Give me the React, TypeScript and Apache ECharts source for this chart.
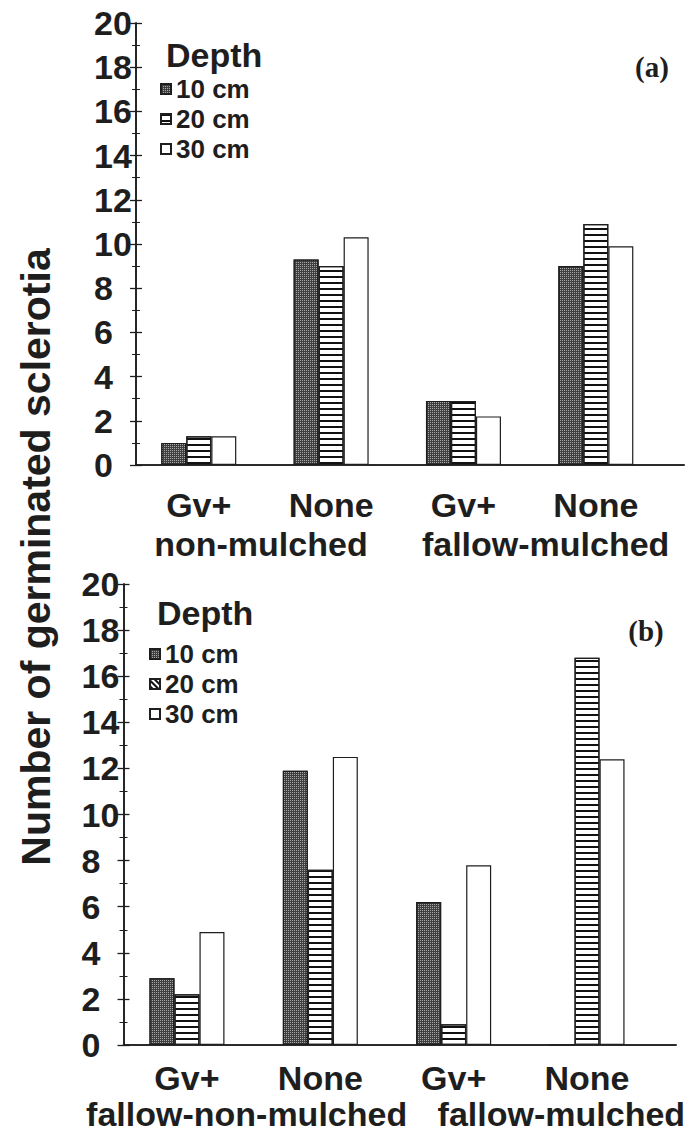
import React, { useEffect, useRef } from "react";
import * as echarts from "echarts";

const CATEGORIES = ["g1", "g2", "g3", "g4"];
const CATEGORY_LABELS = ["Gv+", "None", "Gv+", "None"];
const GROUPS_A = ["non-mulched", "fallow-mulched"];
const GROUPS_B = ["fallow-non-mulched", "fallow-mulched"];
const DEPTHS = ["10 cm", "20 cm", "30 cm"];

const A_10 = [1.0, 9.3, 2.9, 9.0];
const A_20 = [1.3, 9.0, 2.9, 10.9];
const A_30 = [1.3, 10.3, 2.2, 9.9];

const B_10 = [2.9, 11.9, 6.2, 0];
const B_20 = [2.2, 7.6, 0.9, 16.8];
const B_30 = [4.9, 12.5, 7.8, 12.4];

const Y_TITLE = "Number of germinated sclerotia";
const PANEL_A = "(a)";
const PANEL_B = "(b)";
const LEGEND_TITLE = "Depth";

const FONT = "'Liberation Sans', Arial, Helvetica, sans-serif";
const SERIF = "'Liberation Serif', 'Times New Roman', serif";
const INK = "#1e1e1e";

const decal10 = {
  symbol: "rect",
  symbolSize: 1,
  color: "rgba(255,255,255,0.55)",
  dashArrayX: [1, 1],
  dashArrayY: [1, 1],
  rotation: 0,
};
const decal20 = {
  symbol: "rect",
  symbolSize: 1,
  color: "#111",
  dashArrayX: [1, 0],
  dashArrayY: [1.6, 3.4],
  rotation: 0,
};
const decal20diag = {
  symbol: "rect",
  symbolSize: 1,
  color: "#111",
  dashArrayX: [1, 0],
  dashArrayY: [1.2, 1.8],
  rotation: Math.PI / 4,
};

const styles = [
  { color: "#3f3f3f", borderColor: INK, borderWidth: 1.2, decal: decal10 },
  { color: "#ffffff", borderColor: INK, borderWidth: 1.2, decal: decal20 },
  { color: "#ffffff", borderColor: INK, borderWidth: 1.2 },
];

function frameAxes(grid: number) {
  const x = [
    {
      type: "value", gridIndex: grid, min: 0, max: 1, position: "bottom",
      axisLine: { show: true, lineStyle: { color: INK, width: 1.6 } },
      axisTick: { show: false }, axisLabel: { show: false }, splitLine: { show: false },
    },
    {
      type: "value", gridIndex: grid, min: 0, max: 1, position: "top",
      axisLine: { show: true, lineStyle: { color: INK, width: 1.6 } },
      axisTick: { show: false }, axisLabel: { show: false }, splitLine: { show: false },
    },
  ];
  const y = [
    {
      type: "value", gridIndex: grid, min: 0, max: 20, interval: 2, position: "left",
      axisLine: { show: true, lineStyle: { color: INK, width: 1.6 } },
      axisTick: { show: true, length: 6, lineStyle: { color: INK, width: 1.3 } },
      minorTick: { show: true, splitNumber: 2, length: 4, lineStyle: { color: INK, width: 1 } },
      axisLabel: { show: true, align: "left", margin: 42, fontSize: 34, fontWeight: "bold", fontFamily: FONT, color: INK },
      splitLine: { show: false },
    },
    {
      type: "value", gridIndex: grid, min: 0, max: 20, interval: 2, position: "right",
      axisLine: { show: true, lineStyle: { color: INK, width: 1.6 } },
      axisTick: { show: true, length: 6, lineStyle: { color: INK, width: 1.3 } },
      minorTick: { show: true, splitNumber: 2, length: 4, lineStyle: { color: INK, width: 1 } },
      axisLabel: { show: false },
      splitLine: { show: false },
    },
  ];
  return { x, y };
}

function barAxes(grid: number, groups: string[], margin: number, offset: number, padL: number, padR: number) {
  const x = [
    {
      type: "category", gridIndex: grid, data: CATEGORIES, position: "bottom",
      axisLine: { show: false }, axisTick: { show: false },
      axisLabel: {
        interval: 0, margin, fontSize: 34, fontWeight: "bold", fontFamily: FONT, color: INK,
        formatter: (_v: string, i: number) => CATEGORY_LABELS[i],
      },
    },
    {
      type: "category", gridIndex: grid, data: groups, position: "bottom", offset,
      axisLine: { show: false }, axisTick: { show: false },
      axisLabel: {
        interval: 0, margin, fontSize: 34, fontWeight: "bold", fontFamily: FONT, color: INK,
        formatter: (v: string, i: number) => (i === 0 ? `{l|${v}}` : `{r|${v}}`),
        rich: {
          l: { fontSize: 34, fontWeight: "bold", fontFamily: FONT, color: INK, padding: [0, padL, 0, 0] },
          r: { fontSize: 34, fontWeight: "bold", fontFamily: FONT, color: INK, padding: [0, 0, 0, padR] },
        },
      },
    },
  ];
  const y = [{ type: "value", gridIndex: grid, min: 0, max: 20, show: false }];
  return { x, y };
}

export default function App() {
  const ref = useRef<HTMLDivElement>(null);
  useEffect(() => {
    if (!ref.current) return;
    const chart = echarts.init(ref.current, undefined, { renderer: "svg" });
    const fa = frameAxes(0);
    const ba = barAxes(1, GROUPS_A, 23, 39, 8, 32);
    const fb = frameAxes(2);
    const bb = barAxes(3, GROUPS_B, 16, 36, 14, 82);

    const seriesFor = (vals: number[][], xIdx: number, yIdx: number) =>
      vals.map((d, k) => ({
        type: "bar",
        name: DEPTHS[k],
        xAxisIndex: xIdx,
        yAxisIndex: yIdx,
        data: d,
        barWidth: 25,
        barGap: "0%",
        itemStyle: styles[k],
        emphasis: { disabled: true },
      }));

    const legendCommon = {
      orient: "vertical",
      icon: "rect",
      itemWidth: 10,
      itemHeight: 10,
      itemGap: 4,
      selectedMode: false,
      textStyle: { fontSize: 26, fontWeight: "bold", fontFamily: FONT, color: INK },
    };

    chart.setOption({
      animation: false,
      backgroundColor: "#ffffff",
      grid: [
        { left: 136, top: 23, width: 548, height: 442 },
        { left: 132.6, top: 23, width: 529.4, height: 442 },
        { left: 123.5, top: 584, width: 552.5, height: 461 },
        { left: 120.3, top: 584, width: 533.4, height: 461 },
      ],
      xAxis: [...fa.x, ...ba.x, ...fb.x, ...bb.x],
      yAxis: [...fa.y, ...ba.y, ...fb.y, ...bb.y],
      title: [
        { text: LEGEND_TITLE, left: 161, top: 33, textStyle: { fontSize: 34, fontWeight: "bold", fontFamily: FONT, color: INK } },
        { text: LEGEND_TITLE, left: 152, top: 591, textStyle: { fontSize: 34, fontWeight: "bold", fontFamily: FONT, color: INK } },
      ],
      legend: [
        { ...legendCommon, left: 155, top: 71, data: DEPTHS },
        {
          ...legendCommon, left: 144, top: 636,
          data: [
            { name: DEPTHS[0] },
            { name: DEPTHS[1], itemStyle: { decal: decal20diag } },
            { name: DEPTHS[2] },
          ],
        },
      ],
      graphic: [
        {
          type: "text", x: 36, y: 557, rotation: Math.PI / 2,
          style: { text: Y_TITLE, fontSize: 41, fontWeight: "bold", fontFamily: FONT, fill: INK, textAlign: "center", textVerticalAlign: "middle" },
        },
        {
          type: "text", x: 652, y: 67,
          style: { text: PANEL_A, fontSize: 29, fontWeight: "bold", fontFamily: SERIF, fill: INK, textAlign: "center", textVerticalAlign: "middle" },
        },
        {
          type: "text", x: 646, y: 631,
          style: { text: PANEL_B, fontSize: 29, fontWeight: "bold", fontFamily: SERIF, fill: INK, textAlign: "center", textVerticalAlign: "middle" },
        },
      ],
      series: [
        ...seriesFor([A_10, A_20, A_30], 2, 2),
        ...seriesFor([B_10, B_20, B_30], 6, 5),
      ],
    });
    return () => chart.dispose();
  }, []);
  return <div ref={ref} style={{ position: "absolute", left: 0, top: 0, width: 694, height: 1137, background: "#fff" }} />;
}
